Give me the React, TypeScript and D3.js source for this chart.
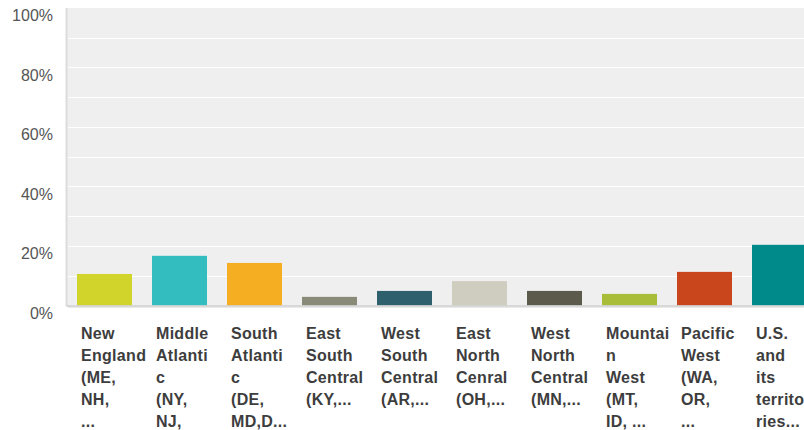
import { useEffect, useRef } from "react";
import * as d3 from "d3";

// regions as answered in the survey (full names), plus how they wrap under the bars
const regions = [
  "New England (ME, NH, ...",
  "Middle Atlantic (NY, NJ, ...",
  "South Atlantic (DE, MD, D...",
  "East South Central (KY, ...",
  "West South Central (AR, ...",
  "East North Cenral (OH, ...",
  "West North Central (MN, ...",
  "Mountain West (MT, ID, ...",
  "Pacific West (WA, OR, ...",
  "U.S. and its territories...",
];

const labelLines = [
  ["New", "England", "(ME,", "NH,", "..."],
  ["Middle", "Atlanti", "c", "(NY,", "NJ,"],
  ["South", "Atlanti", "c", "(DE,", "MD,D..."],
  ["East", "South", "Central", "(KY,..."],
  ["West", "South", "Central", "(AR,..."],
  ["East", "North", "Cenral", "(OH,..."],
  ["West", "North", "Central", "(MN,..."],
  ["Mountai", "n", "West", "(MT,", "ID, ..."],
  ["Pacific", "West", "(WA,", "OR,", "..."],
  ["U.S.", "and", "its", "territo", "ries..."],
];

// share of respondents, in percent
const shares = [10.6, 16.7, 14.3, 2.9, 4.9, 8.2, 4.9, 3.9, 11.3, 20.4];

const barColors = [
  "#d0d42b",
  "#33bdbf",
  "#f5ae21",
  "#8a8a78",
  "#2e5f6d",
  "#cfcdbf",
  "#5c5b4b",
  "#a9bd38",
  "#c9451c",
  "#008b8a",
];

const yTicks = [0, 20, 40, 60, 80, 100];
const gridValues = [10, 20, 30, 40, 50, 60, 70, 80, 90];

const W = 804;
const H = 430;

export default function App() {
  const ref = useRef<SVGSVGElement | null>(null);

  useEffect(() => {
    if (!ref.current) return;
    const svg = d3.select(ref.current);
    svg.selectAll("*").remove();

    const left = 67;
    const top = 8;
    const bottom = 305.5;

    const x = d3.scaleBand<string>().domain(regions).range([left, left + 750]).paddingInner(20 / 75).paddingOuter(10 / 75);
    const y = d3.scaleLinear().domain([0, 100]).range([bottom, top]);

    // plot background
    svg
      .append("rect")
      .attr("x", left)
      .attr("y", top)
      .attr("width", W - left)
      .attr("height", bottom - top)
      .attr("fill", "#efefef");

    // white gridlines every 10%
    svg
      .append("g")
      .selectAll("line")
      .data(gridValues)
      .join("line")
      .attr("x1", left + 1)
      .attr("x2", W)
      .attr("y1", (d) => Math.round(y(d)) + 0.5)
      .attr("y2", (d) => Math.round(y(d)) + 0.5)
      .attr("stroke", "#ffffff")
      .attr("stroke-width", 1);

    // bars
    svg
      .append("g")
      .selectAll("rect")
      .data(shares)
      .join("rect")
      .attr("x", (_, i) => x(regions[i])!)
      .attr("width", x.bandwidth())
      .attr("y", (d) => y(d))
      .attr("height", (d) => bottom - y(d))
      .attr("fill", (_, i) => barColors[i]);

    // axis lines
    svg
      .append("line")
      .attr("x1", left - 0.5)
      .attr("x2", left - 0.5)
      .attr("y1", top)
      .attr("y2", bottom + 1)
      .attr("stroke", "#dcdcdc")
      .attr("stroke-width", 2);
    svg
      .append("line")
      .attr("x1", left)
      .attr("x2", W)
      .attr("y1", bottom + 0.5)
      .attr("y2", bottom + 0.5)
      .attr("stroke", "#cccccc")
      .attr("stroke-width", 1.5);
    svg
      .append("line")
      .attr("x1", left + 1)
      .attr("x2", W)
      .attr("y1", bottom + 2)
      .attr("y2", bottom + 2)
      .attr("stroke", "#e8e8e8")
      .attr("stroke-width", 1);

    // y tick labels, sitting a little below their gridline
    svg
      .append("g")
      .selectAll("text")
      .data(yTicks)
      .join("text")
      .attr("x", 53)
      .attr("y", (d) => y(d) + 13)
      .attr("text-anchor", "end")
      .attr("font-family", "'Liberation Sans', Arial, sans-serif")
      .attr("font-size", 16)
      .attr("fill", "#555555")
      .text((d) => `${d}%`);

    // wrapped category labels
    const lbl = svg
      .append("g")
      .selectAll("text")
      .data(labelLines)
      .join("text")
      .attr("font-family", "'Liberation Sans', Arial, sans-serif")
      .attr("font-size", 16)
      .attr("font-weight", "bold")
      .attr("letter-spacing", 0.3)
      .attr("fill", "#3d3d3d");
    lbl
      .selectAll("tspan")
      .data((d) => d)
      .join("tspan")
      .attr("x", function () {
        const parent = (this as SVGTSpanElement).parentNode as SVGTextElement;
        const i = labelLines.indexOf(d3.select(parent).datum() as string[]);
        return x(regions[i])! + 4;
      })
      .attr("y", (_, j) => 339 + j * 22)
      .text((d) => d);
  }, []);

  return (
    <svg
      ref={ref}
      width={W}
      height={H}
      style={{ position: "absolute", left: 0, top: 0, background: "#ffffff" }}
    />
  );
}
